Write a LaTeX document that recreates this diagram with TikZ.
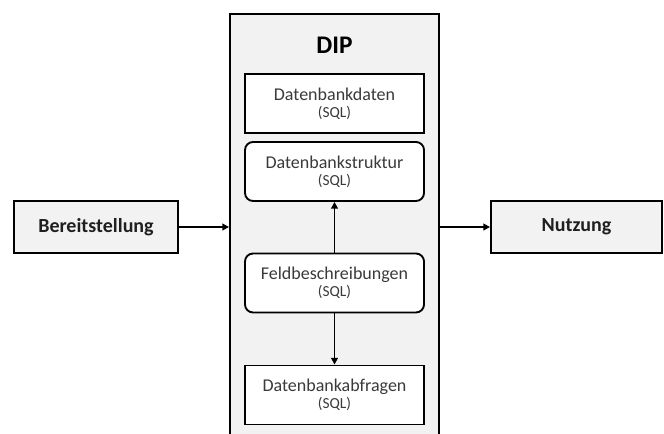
\documentclass[tikz,border=0pt]{standalone}
\usepackage{fontspec}
\setmainfont{Carlito}
\usetikzlibrary{arrows.meta}
\definecolor{boxfill}{HTML}{F2F2F2}
\definecolor{txtgray}{HTML}{3A3A3A}
\begin{document}
\begin{tikzpicture}[x=0.75pt,y=-0.75pt,
  outer/.style={draw=black,line width=1.4pt,fill=boxfill,inner sep=0pt},
  sidebox/.style={outer,minimum width=123pt,minimum height=39pt,
    font=\fontsize{15}{18}\selectfont\bfseries,text=black!88},
  dbbox/.style={draw=black,line width=1.4pt,fill=white,inner sep=0pt,
    minimum width=134.25pt,minimum height=44.25pt,align=center,
    font=\fontsize{13.5}{13.5}\selectfont,text=txtgray},
  roundbox/.style={dbbox,rounded corners=6pt},
  conn/.style={line width=1.3pt,-{Triangle[length=5pt,width=5pt]}}]
\useasboundingbox (0,0) rectangle (664,434);
\clip (0,0) rectangle (664,434);
% DIP container, running past the lower edge
\node[outer,minimum width=156.75pt,minimum height=335.25pt,anchor=north] (dip) at (334.5,13) {};
\node[font=\fontsize{19}{22}\selectfont\bfseries] (diptitle) at (334.5,45) {DIP};
% database components
\node[dbbox] (daten) at (334.5,103.5) {Datenbankdaten\\[-1pt]{\fontsize{11.5}{13}\selectfont(SQL)}};
\node[roundbox] (struktur) at (334.5,171.5) {Datenbankstruktur\\[-1pt]{\fontsize{11.5}{13}\selectfont(SQL)}};
\node[roundbox] (feld) at (334.5,283) {Feldbeschreibungen\\[-1pt]{\fontsize{11.5}{13}\selectfont(SQL)}};
\node[dbbox] (abfragen) at (334.5,395) {Datenbankabfragen\\[-1pt]{\fontsize{11.5}{13}\selectfont(SQL)}};
% input and output
\node[sidebox] (bereit) at (96,227) {Bereitstellung};
\node[sidebox,minimum width=128.25pt] (nutzung) at (576.5,227) {Nutzung};
% connectors
\draw[conn] (feld.north) -- (struktur.south);
\draw[conn] (feld.south) -- (abfragen.north);
\draw[conn] (bereit.east) -- (bereit.east -| dip.west);
\draw[conn] (nutzung.west -| dip.east) -- (nutzung.west);
\end{tikzpicture}
\end{document}
